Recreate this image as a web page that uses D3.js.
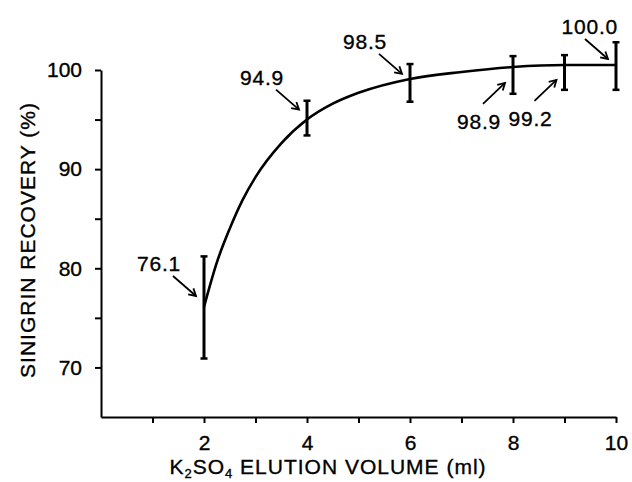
<!DOCTYPE html>
<html>
<head>
<meta charset="utf-8">
<script src="https://cdn.jsdelivr.net/npm/d3@7"></script>
<style>
  body { margin: 0; background: #fff; }
  svg { display: block; font-family: "Liberation Sans", Arial, Helvetica, sans-serif; }
  svg text { stroke: #000; stroke-width: 0.35px; }
</style>
</head>
<body>
<svg></svg>
<script>
// measured points (elution volume, ml)
const volumes = [2, 4, 6, 8, 9, 10];
const barTop = [81.2, 96.9, 100.6, 101.4, 101.5, 102.8];
const barBottom = [70.9, 93.4, 96.8, 97.6, 98.0, 98.0];

// fitted curve
const curveX = [2, 2.25, 2.5, 2.75, 3, 3.5, 4, 4.5, 5, 6, 7, 8, 9, 10];
const curveY = [76.1, 80.6, 84.0, 86.9, 89.2, 92.6, 95.0, 96.6, 97.7, 99.1, 99.8, 100.3, 100.5, 100.5];

// annotations
const annX = [2, 4, 6, 8, 9, 10];
const annLabels = ['76.1', '94.9', '98.5', '98.9', '99.2', '100.0'];
const annSide = ['above', 'above', 'above', 'below', 'below', 'above'];

const xTicks = [1, 2, 3, 4, 5, 6, 7, 8, 9, 10];
const yTicks = [70, 75, 80, 85, 90, 95, 100];

const svg = d3.select('svg')
	.attr('width', 632)
	.attr('height', 482);

svg.append('rect')
	.attr('width', 632)
	.attr('height', 482)
	.attr('fill', '#fff');

const xScale = d3.scaleLinear()
	.domain([0, 10])
	.range([101, 616]);

const yScale = d3.scaleLinear()
	.domain([65, 100])
	.range([417, 70]);

const xAxis = d3.axisBottom(xScale)
	.tickValues(xTicks)
	.tickFormat(d => d % 2 === 0 ? d : '')
	.tickSize(6)
	.tickSizeOuter(0)
	.tickPadding(12);

const yAxis = d3.axisLeft(yScale)
	.tickValues(yTicks)
	.tickFormat(d => d % 10 === 0 ? d : '')
	.tickSize(6)
	.tickSizeOuter(0)
	.tickPadding(13);

const styleAxis = g => {
	g.select('.domain').attr('stroke', '#000').attr('stroke-width', 2);
	g.selectAll('.tick line').attr('stroke', '#000').attr('stroke-width', 2);
	g.selectAll('.tick text')
		.attr('fill', '#000')
		.style('font-size', '21px')
		.style('font-family', '"Liberation Sans", Arial, sans-serif');
};

svg.append('g')
	.attr('transform', `translate(0, ${yScale(65)})`)
	.call(xAxis)
	.call(styleAxis);

svg.append('g')
	.attr('transform', `translate(${xScale(0)}, 0)`)
	.call(yAxis)
	.call(styleAxis);

// axis titles
const xTitle = svg.append('text')
	.attr('x', 328)
	.attr('y', 474)
	.attr('text-anchor', 'middle')
	.attr('font-size', 21)
	.attr('letter-spacing', 1)
	.attr('fill', '#000');
xTitle.append('tspan').text('K');
xTitle.append('tspan').attr('font-size', 13).attr('dy', 4).text('2');
xTitle.append('tspan').attr('dy', -4).text('SO');
xTitle.append('tspan').attr('font-size', 13).attr('dy', 4).text('4');
xTitle.append('tspan').attr('dy', -4).text(' ELUTION VOLUME (ml)');

svg.append('text')
	.attr('transform', 'translate(35, 240) rotate(-90)')
	.attr('text-anchor', 'middle')
	.attr('font-size', 21)
	.attr('letter-spacing', 1)
	.attr('fill', '#000')
	.text('SINIGRIN RECOVERY (%)');

// fitted curve
const curveData = curveX.map((x, i) => ({ x, y: curveY[i] }));
const lineGenerator = d3.line()
	.x(d => xScale(d.x))
	.y(d => yScale(d.y))
	.curve(d3.curveMonotoneX);

svg.append('path')
	.attr('d', lineGenerator(curveData))
	.attr('fill', 'none')
	.attr('stroke', '#000')
	.attr('stroke-width', 2.6);

// error bars
const bars = volumes.map((v, i) => ({ v, top: barTop[i], bottom: barBottom[i] }));
const barG = svg.append('g').attr('stroke', '#000');

barG.selectAll('.bar')
	.data(bars)
	.enter().append('line')
	.attr('x1', d => xScale(d.v))
	.attr('x2', d => xScale(d.v))
	.attr('y1', d => yScale(d.top))
	.attr('y2', d => yScale(d.bottom))
	.attr('stroke-width', 3);

['top', 'bottom'].forEach(k => {
	barG.selectAll('.cap-' + k)
		.data(bars)
		.enter().append('line')
		.attr('x1', d => xScale(d.v) - 3.5)
		.attr('x2', d => xScale(d.v) + 3.5)
		.attr('y1', d => yScale(d[k]))
		.attr('y2', d => yScale(d[k]))
		.attr('stroke-width', 2.5);
});

// value labels with arrows
const labelNudge = { '100.0': 25 };
const annG = svg.append('g');

annX.forEach((ax, i) => {
	const label = annLabels[i];
	const px = xScale(ax),
		py = yScale(+label);
	let tip, tail, tx, ty, anchor;
	if (annSide[i] === 'above') {
		tip = [px - 8, py - 11];
		tail = [tip[0] - 23, tip[1] - 20];
		tx = tail[0] + 8 + (labelNudge[label] || 0);
		ty = tail[1] - 5;
		anchor = 'end';
	} else {
		tip = [px - 8, py + 2];
		tail = [tip[0] - 22, tip[1] + 21];
		tx = tail[0] - 4;
		ty = tail[1] + 25;
		anchor = 'middle';
	}
	const ang = Math.atan2(tip[1] - tail[1], tip[0] - tail[0]),
		len = 8,
		spread = Math.PI / 6;
	const a = [tip[0] - len * Math.cos(ang - spread), tip[1] - len * Math.sin(ang - spread)],
		b = [tip[0] - len * Math.cos(ang + spread), tip[1] - len * Math.sin(ang + spread)];

	annG.append('line')
		.attr('x1', tail[0]).attr('y1', tail[1])
		.attr('x2', tip[0]).attr('y2', tip[1])
		.attr('stroke', '#000')
		.attr('stroke-width', 1.8);

	annG.append('path')
		.attr('d', `M${a[0]},${a[1]}L${tip[0]},${tip[1]}L${b[0]},${b[1]}`)
		.attr('fill', 'none')
		.attr('stroke', '#000')
		.attr('stroke-width', 1.8);

	annG.append('text')
		.attr('x', tx)
		.attr('y', ty)
		.attr('text-anchor', anchor)
		.attr('font-size', 21)
		.attr('letter-spacing', 0.8)
		.attr('fill', '#000')
		.text(label);
});
</script>
</body>
</html>
